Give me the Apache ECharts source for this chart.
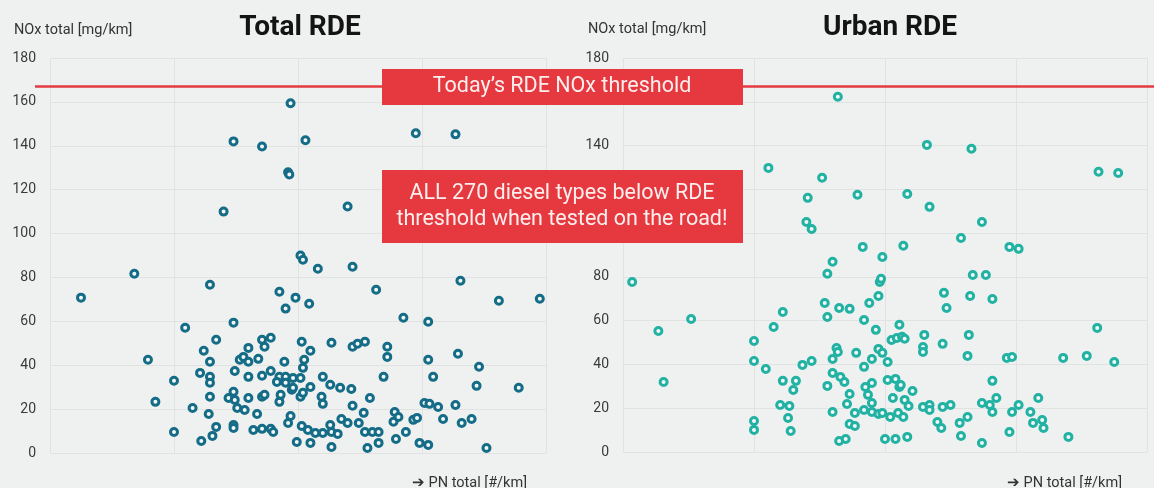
<!DOCTYPE html>
<html>
<head>
<meta charset="utf-8">
<script src="https://cdn.jsdelivr.net/npm/echarts@6/dist/echarts.min.js"></script>
<style>
html,body{margin:0;padding:0;background:#eff1f1;}
#c{width:1154px;height:488px;}
</style>
</head>
<body>
<div id="c"></div>
<script>
// PN total (relative scale, unlabeled in source) vs NOx total [mg/km]
const totalRDE = [
[0.25,70.8],[0.68,81.7],[0.79,42.5],[0.85,23.3],[1.00,32.9],[1.00,9.6],[1.09,57.1],[1.15,20.5],[1.21,36.5],[1.22,5.5],
[1.24,46.6],[1.28,17.8],[1.29,76.7],[1.29,41.6],[1.29,34.7],[1.29,32.0],[1.29,25.6],[1.31,7.8],[1.34,51.6],[1.34,11.9],
[1.40,110.0],[1.48,142.0],[1.48,59.4],[1.48,27.9],[1.48,12.8],[1.48,11.4],[1.44,25.1],[1.49,37.4],[1.49,24.2],[1.51,20.5],
[1.53,42.5],[1.56,43.8],[1.57,19.6],[1.60,47.9],[1.60,41.6],[1.60,34.7],[1.60,25.1],[1.64,10.5],[1.67,17.8],[1.68,42.9],
[1.71,139.7],[1.71,51.6],[1.73,48.4],[1.71,35.2],[1.71,25.6],[1.73,26.5],[1.71,11.0],[1.78,52.5],[1.78,37.4],[1.78,11.0],
[1.80,9.6],[1.85,73.5],[1.85,34.7],[1.85,23.3],[1.86,26.5],[1.89,41.6],[1.83,32.4],[1.90,34.7],[1.90,32.0],[1.90,65.8],
[1.92,127.9],[1.93,126.9],[1.92,13.7],[1.94,16.9],[1.95,28.8],[1.96,34.2],[1.96,29.7],[1.98,70.8],[1.99,5.0],[2.02,90.0],
[2.04,88.1],[2.02,34.2],[2.02,25.6],[2.03,50.7],[2.05,42.5],[2.04,38.8],[2.04,27.4],[2.03,12.3],[2.06,142.5],[2.08,10.5],
[2.09,68.0],[2.10,30.1],[2.10,4.6],[2.10,46.6],[2.14,9.1],[2.16,84.0],[2.19,25.6],[2.20,22.4],[2.20,34.7],[2.26,31.1],
[2.26,12.8],[2.20,9.1],[2.27,9.6],[2.27,50.2],[2.27,2.7],[2.32,8.7],[2.34,29.7],[2.35,15.5],[2.40,13.7],[2.40,112.3],
[2.44,84.9],[2.43,29.2],[2.44,21.5],[2.44,48.4],[2.48,49.8],[2.54,50.7],[2.49,13.7],[2.53,18.3],[2.54,9.6],[2.56,2.3],
[2.60,9.6],[2.63,74.4],[2.65,9.6],[2.65,4.6],[2.58,25.1],[2.69,34.7],[2.72,48.4],[2.72,43.8],[2.77,14.2],[2.78,18.7],
[2.81,16.4],[2.79,6.4],[2.85,61.6],[2.87,9.6],[2.93,15.1],[2.96,16.0],[2.95,145.7],[2.98,4.6],[3.05,3.7],[3.02,22.8],
[3.06,22.4],[3.13,21.0],[3.05,59.8],[3.05,42.5],[3.09,34.7],[3.17,15.5],[3.27,145.2],[3.27,21.9],[3.29,45.2],[3.31,78.5],
[3.32,13.7],[3.40,15.5],[3.44,30.6],[3.46,39.3],[3.52,2.3],[3.62,69.4],[3.78,29.7],[3.95,70.3],[1.94,159.4]
];
const urbanRDE = [
[0.07,77.7],[0.27,55.3],[0.31,32.0],[0.52,60.8],[1.00,50.7],[1.00,41.6],[1.00,14.2],[1.00,10.1],[1.09,37.9],[1.11,129.8],
[1.15,57.1],[1.20,21.5],[1.27,21.0],[1.26,15.5],[1.28,9.6],[1.22,64.0],[1.22,32.5],[1.32,32.5],[1.30,28.3],[1.37,39.8],
[1.44,41.6],[1.40,105.1],[1.44,101.9],[1.41,116.1],[1.52,125.3],[1.54,68.1],[1.56,61.7],[1.56,81.4],[1.60,86.9],[1.56,30.2],
[1.60,36.1],[1.60,42.5],[1.63,47.5],[1.64,45.7],[1.60,18.3],[1.64,162.3],[1.65,65.8],[1.73,65.4],[1.66,34.3],[1.69,32.0],
[1.73,26.5],[1.71,21.9],[1.73,12.8],[1.77,11.9],[1.65,5.0],[1.70,5.9],[1.78,45.3],[1.79,117.5],[1.77,17.8],[1.83,93.7],
[1.84,60.3],[1.84,38.9],[1.84,19.2],[1.85,29.7],[1.90,31.5],[1.87,26.1],[1.90,22.4],[1.88,68.1],[1.90,18.3],[1.95,71.3],
[1.96,77.7],[1.97,79.1],[1.98,89.1],[1.93,55.8],[1.95,47.1],[1.90,42.5],[1.98,45.3],[2.02,41.1],[1.95,17.4],[1.98,17.8],
[2.04,16.0],[2.00,5.9],[2.08,5.9],[2.17,6.9],[2.02,32.9],[2.08,33.4],[2.11,29.7],[2.12,30.6],[2.06,24.7],[2.05,51.2],
[2.09,52.1],[2.13,52.6],[2.15,51.7],[2.11,58.1],[2.10,17.8],[2.14,94.2],[2.17,117.9],[2.15,23.8],[2.18,21.0],[2.14,16.0],
[2.21,27.9],[2.29,48.0],[2.29,45.7],[2.30,53.5],[2.29,20.6],[2.34,21.5],[2.34,19.2],[2.32,140.3],[2.34,112.0],[2.40,13.7],
[2.43,11.0],[2.44,20.6],[2.50,21.5],[2.44,49.4],[2.45,72.7],[2.47,65.8],[2.57,13.3],[2.63,16.0],[2.58,7.3],[2.58,97.8],
[2.64,53.5],[2.63,43.9],[2.65,71.3],[2.66,138.5],[2.67,80.9],[2.77,80.9],[2.74,105.1],[2.74,22.4],[2.80,21.5],[2.85,24.7],
[2.82,18.3],[2.82,32.5],[2.82,69.9],[2.74,4.1],[2.93,43.0],[2.97,43.4],[2.95,93.7],[3.02,92.8],[3.02,21.5],[2.97,18.3],
[2.95,9.1],[3.17,24.7],[3.11,18.3],[3.13,13.3],[3.20,14.6],[3.21,11.0],[3.36,43.0],[3.40,6.9],[3.54,43.9],[3.62,56.7],
[3.63,128.0],[3.78,127.5],[3.75,41.1]
];
const yMin = 0, yMax = 180, yStep = 20;
const xMin = 0, xMax = 4, xStep = 1;
const thresholdNOx = 167;
const titles = ['Total RDE', 'Urban RDE'];
const yName = 'NOx total [mg/km]';
const xName = '\u2794 PN total [#/km]';
const note1 = 'Today\u2019s RDE NOx threshold';
const note2 = 'ALL 270 diesel types below RDE\nthreshold when tested on the road!';

const FONT = 'Roboto, "Noto Sans", sans-serif';
const gridColor = '#e1e3e3';
const chart = echarts.init(document.getElementById('c'), null, {renderer: 'canvas'});

function xAxisCfg(i) {
  return {
    gridIndex: i, type: 'value', min: xMin, max: xMax, interval: xStep,
    axisLine: {show: false}, axisTick: {show: false}, axisLabel: {show: false},
    splitLine: {show: true, lineStyle: {color: gridColor, width: 1}}
  };
}
function yAxisCfg(i) {
  return {
    gridIndex: i, type: 'value', min: yMin, max: yMax, interval: yStep,
    axisLine: {show: false}, axisTick: {show: false},
    axisLabel: {color: '#3a3a3a', fontSize: 14, fontFamily: FONT, margin: 14},
    splitLine: {show: true, lineStyle: {color: gridColor, width: 1}}
  };
}
function scatter(i, data, color) {
  return {
    type: 'scatter', xAxisIndex: i, yAxisIndex: i, data: data,
    symbol: 'circle', symbolSize: 7,
    itemStyle: {color: '#f3f7f7', borderColor: color, borderWidth: 3, opacity: 1},
    emphasis: {disabled: true}
  };
}
const smallText = {fontFamily: FONT, fontSize: 14.5, fontWeight: 'normal', color: '#333'};
const bigText = {fontFamily: FONT, fontSize: 28, fontWeight: 'bold', color: '#141414'};

chart.setOption({
  backgroundColor: '#eff1f1',
  animation: false,
  title: [
    {text: titles[0], left: 295, top: 9, textAlign: 'center', textStyle: bigText},
    {text: titles[1], left: 885, top: 9, textAlign: 'center', textStyle: bigText},
    {text: yName, left: 9, top: 18, textStyle: smallText},
    {text: yName, left: 583, top: 17, textStyle: smallText},
    {text: xName, left: 407, top: 471, textStyle: smallText},
    {text: xName, left: 1002, top: 471, textStyle: smallText}
  ],
  grid: [
    {left: 50, right: 608, top: 58, bottom: 35},
    {left: 623, right: 7, top: 58, bottom: 36}
  ],
  xAxis: [xAxisCfg(0), xAxisCfg(1)],
  yAxis: [yAxisCfg(0), yAxisCfg(1)],
  series: [scatter(0, totalRDE, '#156c86'), scatter(1, urbanRDE, '#22b2a3')]
});

const yLine = chart.convertToPixel({yAxisIndex: 0}, thresholdNOx);
chart.setOption({
  graphic: [
    {type: 'line', z: 50, shape: {x1: 35, y1: yLine, x2: 1154, y2: yLine},
     style: {stroke: '#e53a3f', lineWidth: 2.5}},
    {type: 'rect', z: 60, shape: {x: 382, y: 69, width: 361, height: 36},
     style: {fill: '#e6393f'}},
    {type: 'text', z: 61, x: 562, y: 87,
     style: {text: note1, fill: '#fdeeee', font: '21.5px ' + FONT, textAlign: 'center', textVerticalAlign: 'middle'}},
    {type: 'rect', z: 60, shape: {x: 382, y: 170, width: 361, height: 73},
     style: {fill: '#e6393f'}},
    {type: 'text', z: 61, x: 562, y: 207,
     style: {text: note2, fill: '#fdeeee', font: '21.5px ' + FONT, lineHeight: 26, textAlign: 'center', textVerticalAlign: 'middle'}}
  ]
});
</script>
</body>
</html>
